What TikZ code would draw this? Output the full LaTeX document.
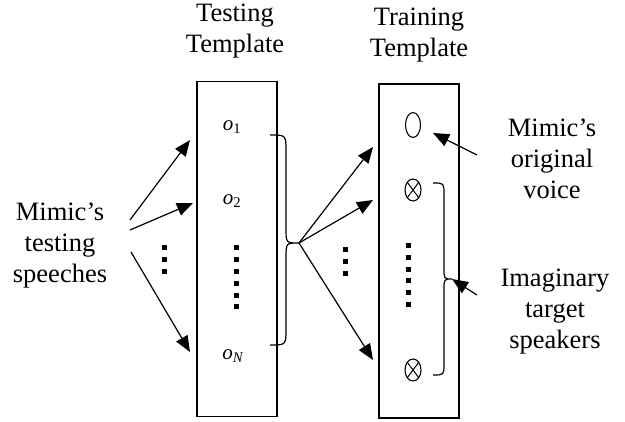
\documentclass[tikz,border=0pt]{standalone}
\usepackage{fontspec}
\setmainfont{Liberation Serif}
\usetikzlibrary{positioning,shapes,arrows.meta}

\begin{document}
\begin{tikzpicture}[
  x=1pt, y=-1pt,
  line width=1.2pt,
  txt/.style={font=\fontsize{26.5}{31}\selectfont, align=center, inner sep=0pt},
  tmpl/.style={rectangle, draw, line width=1.5pt, minimum width=80pt, minimum height=335pt, inner sep=0pt},
  obs/.style={font=\fontsize{21}{21}\selectfont, inner sep=0pt},
  spk/.style={ellipse, draw, line width=1.1pt, minimum width=16pt, minimum height=22pt, inner sep=0pt},
  arr/.style={-{Triangle[length=16pt,width=13pt]}, line width=1.2pt},
  brc/.style={line width=1.2pt}
]
\useasboundingbox (0,0) rectangle (625,422);

% the two templates
\node (test) [tmpl] at (237,249) {};
\node (train) [tmpl, minimum height=334pt] at (419,251) {};

\node (testT) [txt] at (235,31) {Testing\\Template};
\node (trainT) [txt] at (419,35) {Training\\Template};

% testing side
\node (mimic) [txt] at (60,246) {Mimic's\\testing\\speeches};

\node (o1) [obs] at (232,127) {\textit{o}\textsubscript{1}};
\node (o2) [obs] at (232,201) {\textit{o}\textsubscript{2}};
\node (oN) [obs] at (233,356) {\textit{o}\textsubscript{\textit{N}}};

\coordinate (s1) at (130,220);
\coordinate (s2) at (130,230);
\coordinate (s3) at (131,252);
\coordinate (t1) at (190,140);
\coordinate (t2) at (193,203);
\coordinate (t3) at (190,352);
\draw [arr] (s1) -- (t1);
\draw [arr] (s2) -- (t2);
\draw [arr] (s3) -- (t3);

\foreach \i in {0,...,2} \fill (162,245+11.8*\i) rectangle ++(5,5);
\foreach \i in {0,...,5} \fill (233.5,245+11.9*\i) rectangle ++(5,5);

% brace over the observations
\coordinate (b1) at (270,135);
\coordinate (b2) at (270,345);
\coordinate (bTip) at (299,243);
\draw [brc] (b1) .. controls (286,135) .. (286,151) -- (286,228)
  .. controls (286,243) .. (bTip) .. controls (286,243) .. (286,258)
  -- (286,329) .. controls (286,345) .. (b2);

% training side
\node (orig) [spk, minimum width=15pt, minimum height=25pt] at (413,125) {};
\node (x1) [spk] at (413,190) {};
\node (x2) [spk] at (413,370) {};
\foreach \x in {x1,x2} {
  \draw [line width=1pt] (\x.north west) -- (\x.south east);
  \draw [line width=1pt] (\x.north east) -- (\x.south west);
}

\coordinate (r1) at (373,147);
\coordinate (r2) at (373,200);
\coordinate (r3) at (373,360);
\draw [arr] (bTip) -- (r1);
\draw [arr] (bTip) -- (r2);
\draw [arr] (bTip) -- (r3);

\foreach \i in {0,...,2} \fill (343,247+12*\i) rectangle ++(5,5);
\foreach \i in {0,...,5} \fill (406,243+11.8*\i) rectangle ++(5,5);

% brace over the imaginary speakers
\coordinate (c1) at (433,183);
\coordinate (c2) at (433,375);
\coordinate (cTip) at (452,279);
\draw [brc] (c1) .. controls (444,183) .. (444,194) -- (444,268)
  .. controls (444,279) .. (cTip) .. controls (444,279) .. (444,290)
  -- (444,364) .. controls (444,375) .. (c2);

\node (origT) [txt] at (552,159) {Mimic's\\original\\voice};
\node (imagT) [txt] at (555,312) {Imaginary\\target\\speakers};

\coordinate (u1) at (477,155);
\coordinate (v1) at (433,133);
\coordinate (u2) at (477,295);
\draw [arr] (u1) -- (v1);
\draw [arr] (u2) -- (cTip);

\end{tikzpicture}
\end{document}
